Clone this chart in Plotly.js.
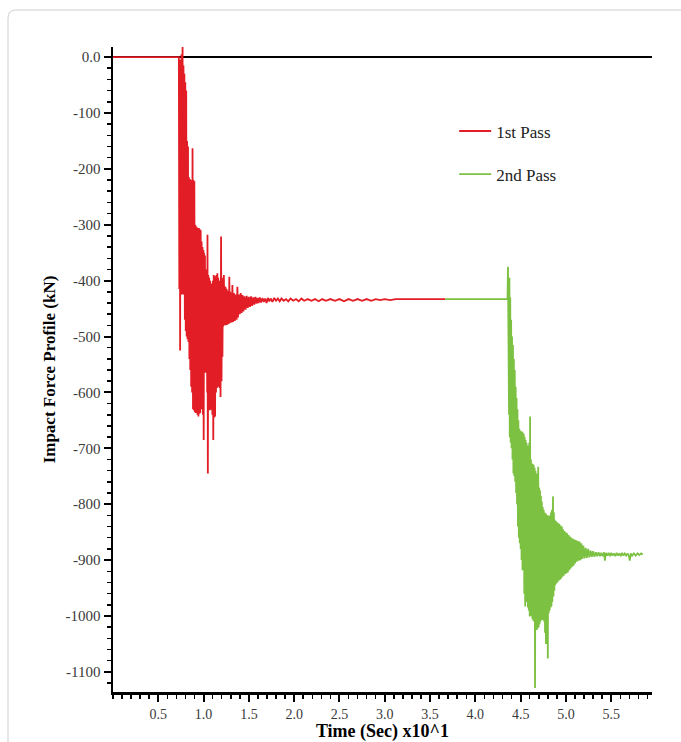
<!DOCTYPE html>
<html>
<head>
<meta charset="utf-8">
<script src="https://cdn.plot.ly/plotly-3.0.1.min.js"></script>
<style>
  html, body { margin: 0; padding: 0; background: #ffffff; }
  #chart { width: 681px; height: 742px; }
</style>
</head>
<body>
<div id="chart"></div>
<script>
// ---- Data (time in s x10^1, force in kN) ----
const seriesNames = ["1st Pass", "2nd Pass"];

const redTime = [
  0.000, 0.727, 0.732, 0.737, 0.741, 0.746, 0.751, 0.756, 0.760, 0.764, 0.768, 0.773, 0.778, 0.783, 0.788,
  0.793, 0.798, 0.803, 0.808, 0.813, 0.818, 0.823, 0.828, 0.833, 0.838, 0.843, 0.848, 0.853, 0.858, 0.863,
  0.868, 0.873, 0.878, 0.883, 0.888, 0.893, 0.898, 0.903, 0.908, 0.913, 0.918, 0.923, 0.928, 0.933, 0.938,
  0.943, 0.948, 0.953, 0.958, 0.963, 0.968, 0.973, 0.978, 0.983, 0.988, 0.993, 0.998, 1.001, 1.005, 1.010,
  1.015, 1.020, 1.025, 1.030, 1.035, 1.040, 1.043, 1.047, 1.052, 1.057, 1.062, 1.067, 1.072, 1.077, 1.082,
  1.087, 1.092, 1.097, 1.102, 1.107, 1.112, 1.117, 1.122, 1.127, 1.132, 1.137, 1.142, 1.147, 1.152, 1.157,
  1.162, 1.167, 1.172, 1.177, 1.182, 1.187, 1.193, 1.198, 1.203, 1.208, 1.213, 1.218, 1.224, 1.229, 1.234,
  1.239, 1.244, 1.249, 1.254, 1.259, 1.264, 1.269, 1.274, 1.279, 1.284, 1.289, 1.294, 1.299, 1.304, 1.309,
  1.318, 1.325, 1.335, 1.345, 1.355, 1.365, 1.373, 1.380, 1.390, 1.400, 1.410, 1.420, 1.430, 1.440, 1.452,
  1.464, 1.476, 1.488, 1.500, 1.512, 1.524, 1.536, 1.548, 1.560, 1.572, 1.584, 1.596, 1.608, 1.620, 1.635,
  1.650, 1.665, 1.680, 1.695, 1.710, 1.725, 1.740, 1.760, 1.780, 1.800, 1.820, 1.840, 1.860, 1.885, 1.910,
  1.935, 1.960, 1.990, 2.020, 2.050, 2.080, 2.110, 2.150, 2.190, 2.230, 2.270, 2.310, 2.350, 2.400, 2.450,
  2.500, 2.550, 2.600, 2.650, 2.700, 2.750, 2.800, 2.850, 2.900, 2.950, 3.000, 3.060, 3.120, 3.667
];
const redForce = [
  0, 0, -415, -10, -525, -5, -420, 5, -425, 8, 18, -425, -15, -425, -30,
  -470, -45, -490, -60, -500, -150, -505, -160, -510, -215, -540, -218, -560, -220, -590,
  -222, -600, -163, -630, -220, -632, -222, -635, -300, -637, -303, -637, -305, -640, -306,
  -643, -306, -638, -308, -637, -310, -600, -330, -630, -340, -640, -345, -685, -350, -565,
  -355, -560, -380, -565, -385, -600, -318, -745, -390, -630, -395, -632, -400, -631, -405,
  -630, -410, -640, -400, -685, -390, -645, -392, -643, -395, -600, -390, -592, -387, -590,
  -395, -590, -400, -592, -405, -608, -321, -580, -395, -536, -400, -482, -390, -480, -410,
  -478, -412, -480, -415, -479, -418, -478, -418, -477, -393, -476, -420, -475, -422, -475,
  -408, -474, -422, -472, -425, -470, -411, -466, -425, -460, -422, -458, -426, -455, -428,
  -452, -427, -449, -429, -447, -428, -445, -430, -443, -429, -441, -431, -440, -430, -439,
  -431, -438, -432, -440, -431, -437, -432, -438, -431, -436, -432, -437, -432, -436, -433,
  -437, -432, -436, -433, -437, -432, -436, -433, -436, -433, -437, -433, -436, -433, -436,
  -433, -437, -433, -436, -433, -436, -433, -436, -433, -435, -433, -435, -433, -433
];

const greenTime = [
  3.667, 4.355, 4.360, 4.364, 4.368, 4.372, 4.376, 4.380, 4.385, 4.390, 4.395, 4.400, 4.405, 4.410, 4.415,
  4.420, 4.425, 4.430, 4.435, 4.440, 4.445, 4.450, 4.455, 4.460, 4.465, 4.470, 4.475, 4.480, 4.485, 4.490,
  4.495, 4.500, 4.505, 4.510, 4.515, 4.520, 4.525, 4.530, 4.535, 4.540, 4.545, 4.550, 4.555, 4.560, 4.565,
  4.570, 4.575, 4.580, 4.585, 4.590, 4.595, 4.600, 4.604, 4.609, 4.614, 4.619, 4.624, 4.629, 4.634, 4.639,
  4.644, 4.649, 4.654, 4.659, 4.664, 4.669, 4.674, 4.679, 4.684, 4.689, 4.694, 4.699, 4.704, 4.709, 4.714,
  4.719, 4.724, 4.729, 4.734, 4.739, 4.744, 4.749, 4.754, 4.759, 4.764, 4.769, 4.774, 4.779, 4.784, 4.789,
  4.794, 4.800, 4.805, 4.810, 4.815, 4.820, 4.825, 4.830, 4.835, 4.840, 4.845, 4.850, 4.857, 4.862, 4.867,
  4.872, 4.877, 4.882, 4.888, 4.894, 4.900, 4.906, 4.913, 4.920, 4.927, 4.934, 4.941, 4.948, 4.955, 4.962,
  4.969, 4.976, 4.983, 4.990, 4.997, 5.005, 5.013, 5.021, 5.029, 5.037, 5.045, 5.053, 5.061, 5.069, 5.077,
  5.085, 5.093, 5.101, 5.110, 5.120, 5.130, 5.140, 5.150, 5.160, 5.170, 5.180, 5.192, 5.205, 5.218, 5.231,
  5.245, 5.258, 5.272, 5.286, 5.300, 5.315, 5.330, 5.345, 5.360, 5.375, 5.390, 5.405, 5.420, 5.430, 5.440,
  5.455, 5.470, 5.485, 5.500, 5.515, 5.530, 5.545, 5.560, 5.575, 5.590, 5.605, 5.620, 5.635, 5.650, 5.665,
  5.680, 5.695, 5.705, 5.715, 5.730, 5.750, 5.770, 5.790, 5.810, 5.830, 5.848
];
const greenForce = [
  -433, -433, -375, -600, -378, -640, -395, -680, -430, -690, -470, -700, -500, -720, -515,
  -745, -540, -750, -560, -760, -590, -780, -610, -800, -630, -840, -650, -860, -665, -870,
  -668, -880, -670, -900, -670, -918, -672, -905, -675, -960, -680, -983, -685, -970, -690,
  -975, -695, -985, -700, -990, -690, -1001, -643, -995, -720, -1000, -727, -1005, -728, -1008,
  -730, -1010, -735, -1129, -740, -1020, -745, -1025, -750, -1022, -733, -1020, -770, -1015, -775,
  -1010, -785, -1005, -795, -1007, -805, -1007, -810, -1010, -815, -1030, -816, -1050, -818, -1000,
  -820, -1076, -820, -995, -822, -990, -820, -985, -815, -983, -810, -975, -786, -965, -815,
  -955, -828, -945, -830, -942, -832, -940, -834, -937, -835, -935, -838, -933, -840, -930,
  -845, -928, -848, -925, -850, -924, -852, -922, -855, -918, -858, -915, -860, -912, -862,
  -910, -863, -906, -864, -903, -866, -901, -867, -900, -870, -898, -874, -897, -878, -896,
  -880, -895, -883, -894, -884, -894, -886, -893, -886, -893, -887, -893, -886, -901, -887,
  -892, -887, -893, -887, -892, -888, -893, -887, -892, -888, -893, -887, -892, -888, -892,
  -888, -893, -901, -888, -892, -888, -892, -888, -891, -888, -890
];

const xTickVals = [0.5, 1.0, 1.5, 2.0, 2.5, 3.0, 3.5, 4.0, 4.5, 5.0, 5.5];
const xTickText = ["0.5", "1.0", "1.5", "2.0", "2.5", "3.0", "3.5", "4.0", "4.5", "5.0", "5.5"];
const yTickVals = [0, -100, -200, -300, -400, -500, -600, -700, -800, -900, -1000, -1100];
const yTickText = ["0.0", "-100", "-200", "-300", "-400", "-500", "-600", "-700", "-800", "-900", "-1000", "-1100"];

const xTitle = "Time (Sec) x10^1";
const yTitle = "Impact Force Profile (kN)";

// ---- Styling ----
const serif = "Liberation Serif, Times New Roman, serif";
const redColor = "#e31d25";
const greenColor = "#7cc142";

const traces = [
  {
    type: "scatter", mode: "lines", name: seriesNames[0], legendgroup: "a",
    x: redTime, y: redForce,
    line: { color: redColor, width: 1.8 }
  },
  {
    type: "scatter", mode: "lines", name: seriesNames[1], legendgroup: "b",
    x: greenTime, y: greenForce,
    line: { color: greenColor, width: 1.8 }
  }
];

const axisCommon = {
  showline: true, linecolor: "#000", linewidth: 2.5,
  ticks: "outside", tickcolor: "#000", tickwidth: 2, ticklen: 7,
  showgrid: false
};

const layout = {
  width: 681, height: 742,
  margin: { l: 113, r: 29, t: 47, b: 50, pad: 0 },
  paper_bgcolor: "#ffffff", plot_bgcolor: "#ffffff",
  font: { family: serif, color: "#111" },
  showlegend: true,
  legend: {
    x: 0.633, y: 0.897, xanchor: "left", yanchor: "top",
    bgcolor: "rgba(0,0,0,0)", borderwidth: 0,
    tracegroupgap: 18, itemwidth: 32,
    font: { family: serif, size: 17, color: "#222" }
  },
  xaxis: Object.assign({}, axisCommon, {
    range: [0, 5.95],
    tickmode: "array", tickvals: xTickVals, ticktext: xTickText,
    tickfont: { family: serif, size: 14, color: "#3a3a3a" },
    ticklabelstandoff: 1,
    zeroline: false,
    minor: { tickmode: "linear", dtick: 0.1, tick0: 0, ticks: "outside", ticklen: 4, tickwidth: 1.5, tickcolor: "#000" },
    title: { text: xTitle, standoff: 3, font: { family: serif, size: 18, color: "#000", weight: "bold" } }
  }),
  yaxis: Object.assign({}, axisCommon, {
    range: [-1136, 18],
    tickmode: "array", tickvals: yTickVals, ticktext: yTickText,
    tickfont: { family: serif, size: 15, color: "#3a3a3a" },
    zeroline: true, zerolinecolor: "#000", zerolinewidth: 2.5,
    minor: { tickmode: "linear", dtick: 20, tick0: 0, ticks: "outside", ticklen: 4, tickwidth: 1.5, tickcolor: "#000" },
    title: { text: yTitle, standoff: 6, font: { family: serif, size: 17, color: "#000", weight: "bold" } }
  }),
  shapes: [
    {
      type: "path", xref: "paper", yref: "paper",
      path: "M 1.2,1.0574 L -0.1800,1.0574 Q -0.1948,1.0574 -0.1948,1.0450 L -0.1948,-0.2",
      line: { color: "#cfcfcf", width: 1 }
    }
  ]
};

Plotly.newPlot("chart", traces, layout, { staticPlot: true, displayModeBar: false });
</script>
</body>
</html>
